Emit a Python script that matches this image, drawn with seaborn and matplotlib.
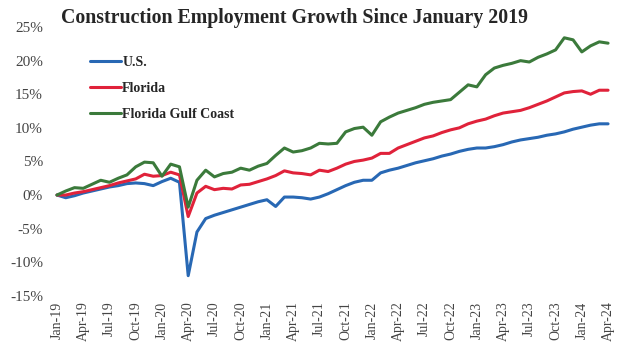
import pandas as pd
import matplotlib.pyplot as plt
import seaborn as sns

# Datos: crecimiento acumulado (%) desde enero 2019, mensual Jan-19 .. Apr-24
meses = pd.date_range("2019-01-01", "2024-04-01", freq="MS").strftime("%b-%y").tolist()

us = [0.0, -0.4, -0.1, 0.3, 0.6, 0.9, 1.2, 1.4, 1.7, 1.8, 1.7, 1.4,
      2.0, 2.5, 1.9, -12.0, -5.5, -3.5, -3.0, -2.6, -2.2, -1.8, -1.4, -1.0,
      -0.7, -1.7, -0.3, -0.3, -0.4, -0.6, -0.3, 0.2, 0.8, 1.4, 1.9, 2.2,
      2.2, 3.3, 3.7, 4.0, 4.4, 4.8, 5.1, 5.4, 5.8, 6.1, 6.5, 6.8,
      7.0, 7.0, 7.2, 7.5, 7.9, 8.2, 8.4, 8.6, 8.9, 9.1, 9.4, 9.8,
      10.1, 10.4, 10.6, 10.6]

florida = [0.0, 0.0, 0.3, 0.5, 0.8, 1.1, 1.4, 1.8, 2.1, 2.4, 3.1, 2.8,
           2.9, 3.4, 3.0, -3.2, 0.3, 1.3, 0.8, 1.0, 0.9, 1.5, 1.6, 2.0,
           2.4, 2.9, 3.6, 3.3, 3.2, 3.0, 3.7, 3.5, 4.0, 4.6, 5.0, 5.2,
           5.5, 6.2, 6.2, 7.0, 7.5, 8.0, 8.5, 8.8, 9.3, 9.7, 10.0, 10.6,
           11.0, 11.3, 11.8, 12.2, 12.4, 12.6, 13.0, 13.5, 14.0, 14.6, 15.2, 15.4,
           15.5, 15.0, 15.6, 15.6]

gulf = [0.0, 0.6, 1.1, 1.0, 1.6, 2.2, 1.9, 2.5, 3.0, 4.2, 4.9, 4.8,
        2.8, 4.6, 4.2, -1.8, 2.2, 3.7, 2.7, 3.2, 3.4, 4.0, 3.7, 4.3,
        4.7, 5.9, 7.0, 6.4, 6.6, 7.0, 7.7, 7.6, 7.7, 9.4, 9.9, 10.1,
        8.9, 10.9, 11.6, 12.2, 12.6, 13.0, 13.5, 13.8, 14.0, 14.2, 15.3, 16.4,
        16.1, 17.9, 18.9, 19.3, 19.6, 20.0, 19.8, 20.5, 21.0, 21.6, 23.4, 23.1,
        21.3, 22.2, 22.8, 22.6]

series = ["U.S.", "Florida", "Florida Gulf Coast"]
colores = ["#2868b4", "#e0223a", "#3b7a3b"]

df = pd.concat([
    pd.DataFrame({"mes": range(len(meses)), "valor": v, "serie": s})
    for s, v in zip(series, [us, florida, gulf])
])

sns.set_style("white")
plt.rcParams["font.family"] = ["Liberation Serif", "DejaVu Serif"]

fig = plt.figure(figsize=(6.22, 3.56), dpi=100)
ax = fig.add_axes([0.0846, 0.169, 0.9, 0.755])

sns.lineplot(data=df, x="mes", y="valor", hue="serie", hue_order=series,
             palette=colores, linewidth=2.2, ax=ax)

ax.set_xlim(-0.5, 63.5)
ax.set_ylim(-15, 25)
ax.set_yticks(range(-15, 30, 5))
ax.set_yticklabels([f"{t}%" for t in range(-15, 30, 5)], fontsize=11, color="#444444")
ax.set_xticks(range(0, len(meses), 3))
ax.set_xticklabels(meses[::3], rotation=90, fontsize=10, color="#444444")
ax.tick_params(axis="x", length=0, pad=4)
ax.tick_params(axis="y", length=0, pad=7)
ax.set_xlabel("")
ax.set_ylabel("")
for sp in ax.spines.values():
    sp.set_visible(False)

leg = ax.legend(loc="upper left", bbox_to_anchor=(0.045, 0.94), frameon=False,
                handlelength=2.2, handletextpad=0.1, labelspacing=0.95,
                prop={"weight": "bold", "size": 10})

fig.text(0.474, 0.95, "Construction Employment Growth Since January 2019",
         ha="center", va="center", fontsize=14.3, fontweight="bold")

plt.savefig("out.png", dpi=100)
